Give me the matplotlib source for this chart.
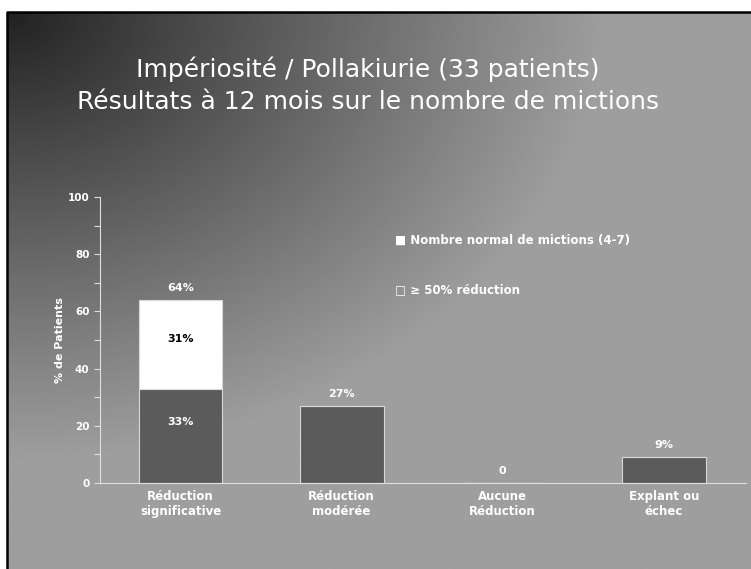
import matplotlib
matplotlib.use("Agg")
import matplotlib.pyplot as plt
import numpy as np

# data
categories = ["Réduction\nsignificative", "Réduction\nmodérée", "Aucune\nRéduction", "Explant ou\néchec"]
normal = [33, 27, 0, 9]          # Nombre normal de mictions (4-7)
reduction = [31, 0, 0, 0]        # >= 50% réduction
top_labels = ["64%", "27%", "0", "9%"]
y_ticks = [0, 20, 40, 60, 80, 100]

title1 = "Impériosité / Pollakiurie (33 patients)"
title2 = "Résultats à 12 mois sur le nombre de mictions"

W, H = 751, 569
fig = plt.figure(figsize=(W / 100, H / 100), dpi=100)
fig.patch.set_facecolor("white")

# slide background: dark top-left corner fading to light grey
bg = fig.add_axes([7 / W, 0, 1 - 7 / W, 1 - 12 / H])
xx, yy = np.meshgrid(np.linspace(0, 744, 400), np.linspace(0, 557, 300))
d = np.clip(np.sqrt((xx / 600) ** 2 + (yy / 450) ** 2), 0, 1)
v = 0.13 + 0.49 * d ** 0.95
bg.imshow(v, cmap="gray", vmin=0, vmax=1, aspect="auto", extent=[0, 1, 0, 1], origin="upper")
bg.set_xlim(0, 1)
bg.set_ylim(0, 1)
bg.axis("off")
bg.plot([0, 0, 1], [0, 1, 1], color="black", lw=1.8, transform=bg.transAxes, clip_on=False)

fig.text(0.49, 0.878, title1, ha="center", va="center", color="white", fontsize=18)
fig.text(0.49, 0.820, title2, ha="center", va="center", color="white", fontsize=18)

ax = fig.add_axes([100 / W, 86 / H, 646 / W, 286 / H])
ax.patch.set_alpha(0)
x = np.arange(len(categories))
bw = 0.52
dark = "#5b5b5b"
edge = "#d8d8d8"
ax.bar(x, normal, bw, color=dark, edgecolor=edge, linewidth=0.8)
ax.bar(x, reduction, bw, bottom=normal, color="white", edgecolor=edge, linewidth=0.8)

ax.set_xlim(-0.50, 3.51)
ax.set_ylim(0, 100)
ax.set_yticks(y_ticks)
ax.set_yticks(range(0, 101, 10), minor=True)
ax.set_xticks(x)
ax.set_xticklabels(categories, fontsize=8.5, fontweight="bold", color="white")
ax.tick_params(axis="x", length=0, pad=5)
ax.tick_params(axis="y", which="both", colors="#e0e0e0", labelcolor="white", labelsize=7.5, length=4, width=0.8)
for lbl in ax.get_yticklabels():
    lbl.set_fontweight("bold")
for s in ["top", "right"]:
    ax.spines[s].set_visible(False)
ax.spines["left"].set_color("#e0e0e0")
ax.spines["bottom"].set_color("#e0e0e0")
ax.set_ylabel("% de Patients", fontsize=8, fontweight="bold", color="white", labelpad=2)

# value labels
for i, lab in enumerate(top_labels):
    total = normal[i] + reduction[i]
    ax.text(x[i], total + 2.5, lab, ha="center", va="bottom", fontsize=8, fontweight="bold", color="white")
ax.text(x[0], normal[0] + reduction[0] / 2 + 2, "31%", ha="center", va="center", fontsize=8, fontweight="bold", color="black")
ax.text(x[0], normal[0] * 0.65, "33%", ha="center", va="center", fontsize=8, fontweight="bold", color="white")

# legend drawn as text like the slide
ax.text(1.33, 85, "■ Nombre normal de mictions (4-7)", fontsize=8.5, fontweight="bold", color="white", va="center")
ax.text(1.33, 67.5, "□ ≥ 50% réduction", fontsize=8.5, fontweight="bold", color="white", va="center")

fig.savefig("out.png", dpi=100)
